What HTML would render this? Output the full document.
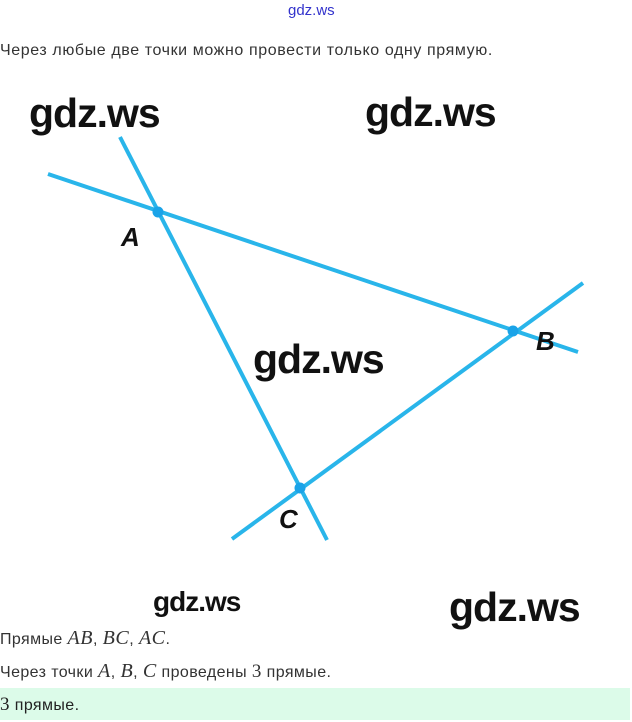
<!DOCTYPE html>
<html><head><meta charset="utf-8"><style>
html,body{margin:0;padding:0;background:#fff;width:632px;height:722px;overflow:hidden;position:relative;font-family:"Liberation Sans",sans-serif}
.t{position:absolute;color:#333;font-size:16px;letter-spacing:0.4px;white-space:nowrap}
.wm{position:absolute;color:#111;font-family:"Liberation Sans",sans-serif;font-weight:bold;white-space:nowrap;letter-spacing:-1px}
.m{font-family:"Liberation Serif",serif;font-style:italic;font-size:20px;letter-spacing:0.5px}
.n{font-family:"Liberation Serif",serif;font-size:19px}
</style></head><body>
<div class="t" style="left:288px;top:2px;color:#3333cc;font-size:15px;letter-spacing:0">gdz.ws</div>
<div class="t" style="left:0;top:42px;letter-spacing:0.6px">Через любые две точки можно провести только одну прямую.</div>
<svg style="position:absolute;left:0;top:0" width="632" height="722">
<g stroke="#29b5ea" stroke-width="4" stroke-linecap="butt">
<line x1="48" y1="174" x2="578" y2="352"/>
<line x1="120" y1="137" x2="327" y2="540"/>
<line x1="232" y1="539" x2="583" y2="283"/>
</g>
<g fill="#1aa3e8">
<circle cx="158" cy="212" r="5.5"/>
<circle cx="513" cy="331" r="5.5"/>
<circle cx="300" cy="488" r="5.5"/>
</g>
<g font-family="Liberation Sans,sans-serif" font-weight="bold" font-style="italic" font-size="26" fill="#111">
<text x="121" y="246">A</text>
<text x="536" y="350">B</text>
<text x="279" y="528">C</text>
</g>
</svg>
<div class="wm" style="left:29px;top:90px;font-size:41px">gdz.ws</div>
<div class="wm" style="left:365px;top:89px;font-size:41px">gdz.ws</div>
<div class="wm" style="left:253px;top:336px;font-size:41px">gdz.ws</div>
<div class="wm" style="left:153px;top:586px;font-size:28px">gdz.ws</div>
<div class="wm" style="left:449px;top:584px;font-size:41px">gdz.ws</div>
<div class="t" style="left:0;top:627px">Прямые <span class="m">AB</span>, <span class="m">BC</span>, <span class="m">AC</span>.</div>
<div class="t" style="left:0;top:660px">Через точки <span class="m">A</span>, <span class="m">B</span>, <span class="m">C</span> проведены <span class="n">3</span> прямые.</div>
<div style="position:absolute;left:0;top:688px;width:630px;height:32px;background:#dcfbe9"></div>
<div class="t" style="left:0;top:694px;color:#222"><span class="n">3</span> прямые.</div>
</body></html>
